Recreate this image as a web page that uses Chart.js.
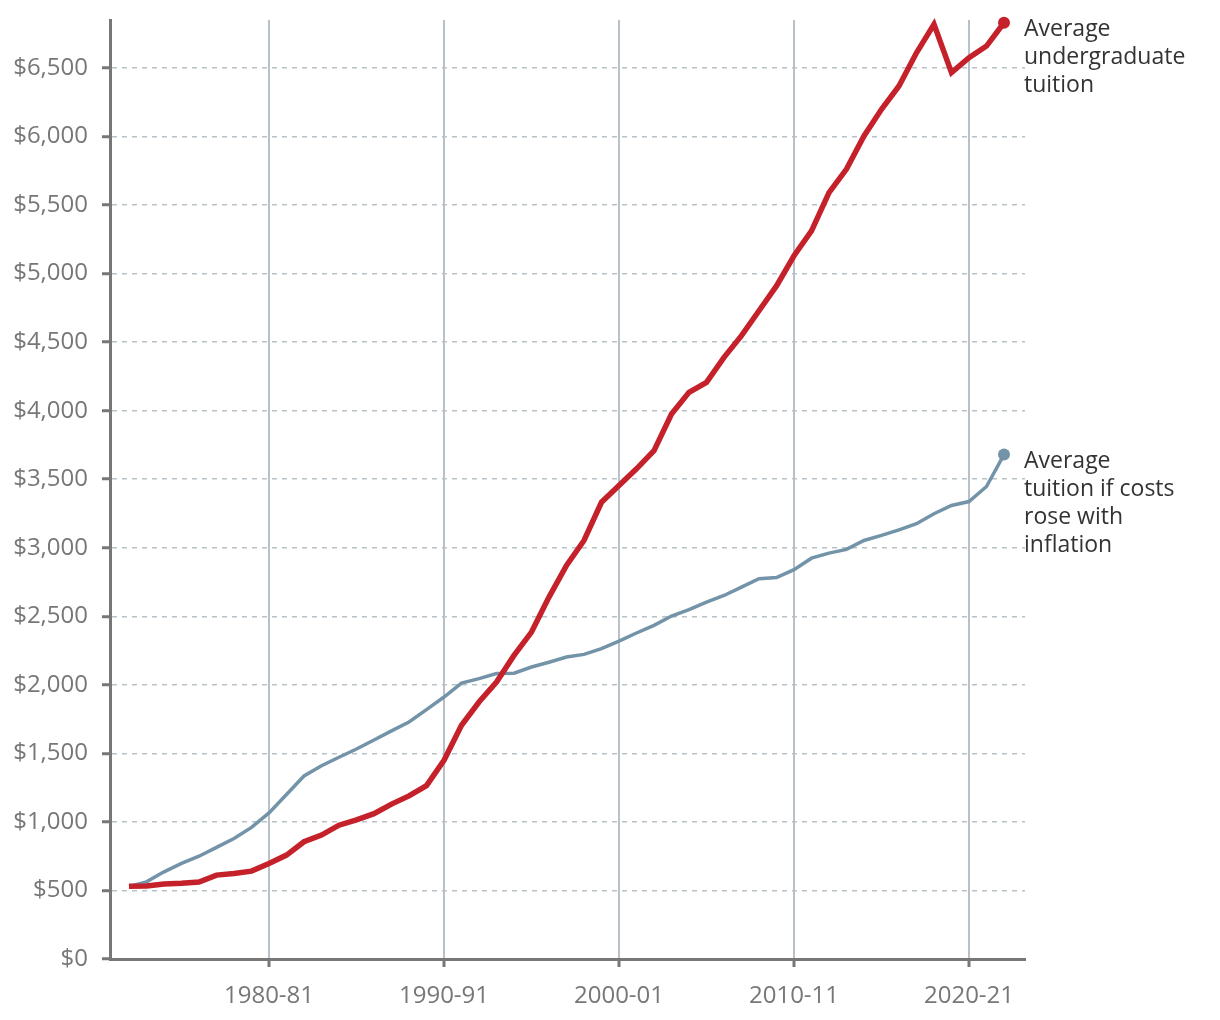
<!DOCTYPE html>
<html>
<head>
<meta charset="utf-8">
<script src="https://cdn.jsdelivr.net/npm/chart.js@4.4.1/dist/chart.umd.min.js"></script>
<style>
  html, body { margin: 0; padding: 0; background: #fff; }
  #wrap { width: 1220px; height: 1020px; }
</style>
</head>
<body>
<div id="wrap"><canvas id="tuitionChart" width="1220" height="1020"></canvas></div>
<script>
  const schoolYears = [
    '1972-73', '1973-74', '1974-75', '1975-76', '1976-77', '1977-78', '1978-79', '1979-80',
    '1980-81', '1981-82', '1982-83', '1983-84', '1984-85', '1985-86', '1986-87', '1987-88',
    '1988-89', '1989-90', '1990-91', '1991-92', '1992-93', '1993-94', '1994-95', '1995-96',
    '1996-97', '1997-98', '1998-99', '1999-00', '2000-01', '2001-02', '2002-03', '2003-04',
    '2004-05', '2005-06', '2006-07', '2007-08', '2008-09', '2009-10', '2010-11', '2011-12',
    '2012-13', '2013-14', '2014-15', '2015-16', '2016-17', '2017-18', '2018-19', '2019-20',
    '2020-21', '2021-22', '2022-23'
  ];

  const avgTuition = [
    530, 532, 547, 552, 561, 612, 624, 641, 697, 758,
    855, 904, 976, 1015, 1060, 1130, 1190, 1265, 1450, 1705,
    1875, 2021, 2215, 2385, 2640, 2871, 3053, 3332, 3454, 3576,
    3709, 3976, 4134, 4207, 4389, 4547, 4729, 4910, 5130, 5312,
    5591, 5762, 6004, 6199, 6369, 6611, 6818, 6466, 6575, 6660,
    6830
  ];

  const inflationTuition = [
    530, 563, 636, 697, 750, 814, 879, 960, 1066, 1200,
    1335, 1410, 1472, 1532, 1598, 1664, 1729, 1819, 1911, 2013,
    2045, 2082, 2085, 2130, 2165, 2203, 2222, 2264, 2319, 2378,
    2434, 2502, 2548, 2604, 2652, 2713, 2774, 2783, 2840, 2924,
    2961, 2988, 3053, 3090, 3131, 3175, 3248, 3308, 3337, 3447,
    3680
  ];

  const xTickYears = [1980, 1990, 2000, 2010, 2020];
  const yTickValues = [0, 500, 1000, 1500, 2000, 2500, 3000, 3500, 4000, 4500, 5000, 5500, 6000, 6500];

  const seriesLabels = [
    ['Average', 'undergraduate', 'tuition'],
    ['Average', 'tuition if costs', 'rose with', 'inflation']
  ];

  const RED = '#c5212a';
  const BLUE = '#7393a8';
  const GRID = '#b7c1c7';
  const AXIS = '#777777';
  const FONT = "'Open Sans', sans-serif";

  const toPoints = vals => vals.map((v, i) => ({ x: parseInt(schoolYears[i], 10), y: v }));
  const lastDot = ctx => ctx.dataIndex === schoolYears.length - 1 ? 6 : 0;

  // end-of-line labels next to the final dots
  const endLabels = {
    id: 'endLabels',
    afterDatasetsDraw(chart) {
      const ctx = chart.ctx;
      ctx.save();
      ctx.font = '23px ' + FONT;
      ctx.fillStyle = '#333333';
      ctx.textBaseline = 'middle';
      ctx.textAlign = 'left';
      chart.data.datasets.forEach((ds, di) => {
        const meta = chart.getDatasetMeta(di);
        const pt = meta.data[meta.data.length - 1];
        seriesLabels[di].forEach((line, li) => {
          ctx.fillText(line, pt.x + 20, pt.y + 7 + li * 28);
        });
      });
      ctx.restore();
    }
  };

  new Chart(document.getElementById('tuitionChart'), {
    type: 'line',
    data: {
      datasets: [{
        label: 'Average undergraduate tuition',
        data: toPoints(avgTuition),
        borderColor: RED,
        backgroundColor: RED,
        borderWidth: 5.5,
        pointRadius: lastDot,
        pointBorderWidth: 0,
        tension: 0,
        clip: false
      }, {
        label: 'Average tuition if costs rose with inflation',
        data: toPoints(inflationTuition),
        borderColor: BLUE,
        backgroundColor: BLUE,
        borderWidth: 3.5,
        pointRadius: lastDot,
        pointBorderWidth: 0,
        tension: 0,
        clip: false
      }]
    },
    options: {
      responsive: false,
      animation: false,
      layout: { padding: { top: 20, right: 195, left: 0, bottom: 0 } },
      plugins: {
        legend: { display: false },
        tooltip: { enabled: false }
      },
      scales: {
        x: {
          type: 'linear',
          min: 1970.914,
          max: 2023.2,
          afterBuildTicks: scale => { scale.ticks = xTickYears.map(v => ({ value: v })); },
          afterFit: scale => {
            scale.height = 61;
            scale.paddingLeft = 0;
            scale.paddingRight = 0;
          },
          grid: {
            color: GRID,
            lineWidth: 2,
            tickColor: AXIS,
            tickWidth: 3,
            tickLength: 8
          },
          border: { color: AXIS, width: 3 },
          ticks: {
            color: AXIS,
            font: { family: FONT, size: 24 },
            padding: 15,
            maxRotation: 0,
            callback: v => v + '-' + String((v + 1) % 100).padStart(2, '0')
          }
        },
        y: {
          min: 0,
          max: 6850,
          afterBuildTicks: scale => { scale.ticks = yTickValues.map(v => ({ value: v })); },
          afterFit: scale => {
            scale.width = 110;
            scale.paddingTop = 0;
            scale.paddingBottom = 0;
          },
          grid: {
            color: GRID,
            lineWidth: 1.5,
            tickColor: AXIS,
            tickWidth: 3,
            tickLength: 8
          },
          border: { color: AXIS, width: 3, dash: [5, 5] },
          ticks: {
            color: AXIS,
            font: { family: FONT, size: 24 },
            padding: 14,
            callback: v => '$' + v.toLocaleString('en-US')
          }
        }
      }
    },
    plugins: [endLabels]
  });
</script>
</body>
</html>
